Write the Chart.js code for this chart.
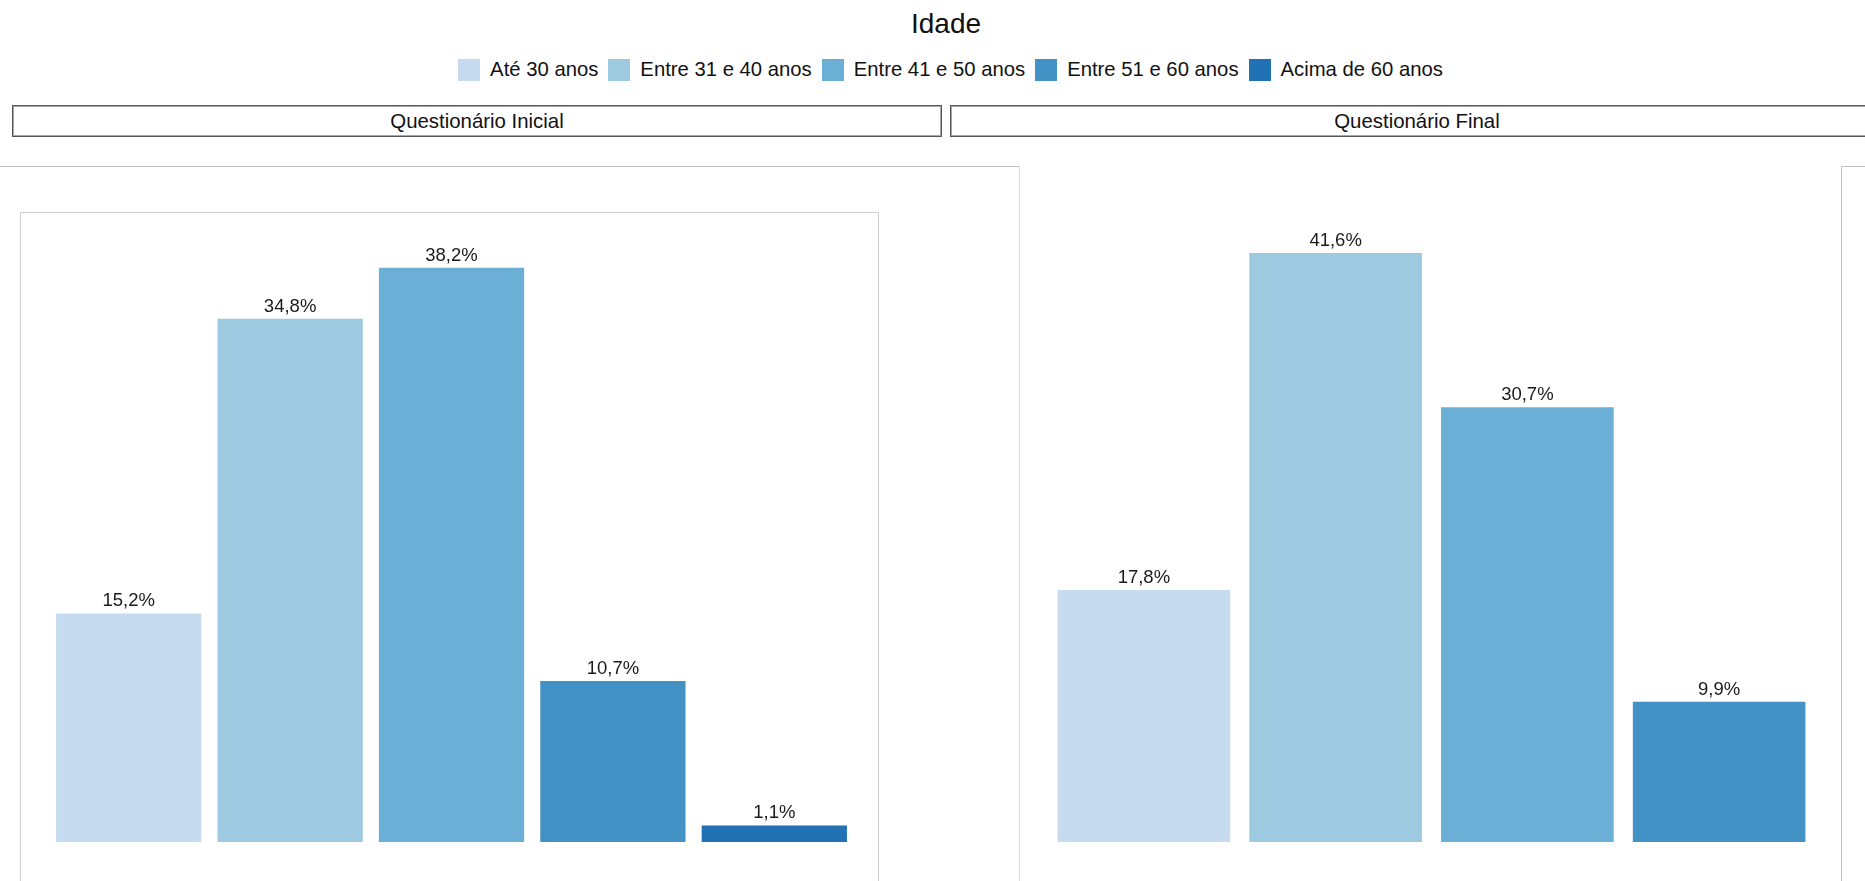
<!DOCTYPE html>
<html>
<head>
<meta charset="utf-8">
<script src="https://cdn.jsdelivr.net/npm/chart.js@4"></script>
<style>
  html, body { margin:0; padding:0; background:#fff; width:1865px; height:881px; overflow:hidden; font-family:"Liberation Sans", Arial, sans-serif; }
  .abs { position:absolute; box-sizing:border-box; }
  #title { left:0; width:1892px; top:8px; line-height:32px; font-size:28px; text-align:center; color:#111; }
  #legend { left:0; width:1911px; top:58px; height:23px; display:flex; justify-content:center; align-items:center; font-size:20.3px; color:#111; }
  .sw { width:22px; height:22px; margin-right:10px; }
  .lt { margin-right:10px; white-space:nowrap; }
  .strip { top:105px; height:32px; border:1px solid #555; box-shadow: inset 0 0 0 1px #a8a8a8; font-size:20.4px; line-height:30px; text-align:center; color:#111; }
  canvas { position:absolute; }
</style>
</head>
<body>
<div id="title" class="abs"></div>
<div id="legend" class="abs"></div>
<div id="strip0" class="abs strip" style="left:12px;width:930px;"></div>
<div id="strip1" class="abs strip" style="left:950px;width:934px;"></div>
<div class="abs" style="left:-2px;top:166px;width:1022px;height:800px;border-top:1px solid #c4c4c4;border-right:1px solid #dcdcdc;"></div>
<div class="abs" style="left:20px;top:212px;width:859px;height:800px;border:1px solid #cfcfcf;"></div>
<div class="abs" style="left:1841px;top:166px;width:100px;height:800px;border:1px solid #c4c4c4;"></div>
<canvas id="c0" width="807" height="630" style="left:48px;top:212px;width:807px;height:630px;"></canvas>
<canvas id="c1" width="767" height="630" style="left:1048px;top:212px;width:767px;height:630px;"></canvas>
<script>
const chartTitle = 'Idade';
const categories = ['Até 30 anos', 'Entre 31 e 40 anos', 'Entre 41 e 50 anos', 'Entre 51 e 60 anos', 'Acima de 60 anos'];
const seriesColors = ['#c6dbef', '#9ecae1', '#6baed6', '#4292c6', '#2171b5'];
const panelTitles = ['Questionário Inicial', 'Questionário Final'];
const inicialCategories = categories.slice(0, 5);
const inicialValues = [15.2, 34.8, 38.2, 10.7, 1.1];
const finalCategories = categories.slice(0, 4);
const finalValues = [17.8, 41.6, 30.7, 9.9];
const yMaxInicial = 41.9;
const yMaxFinal = 44.5;

document.getElementById('title').textContent = chartTitle;
const leg = document.getElementById('legend');
categories.forEach((c, i) => {
  const s = document.createElement('span'); s.className = 'sw'; s.style.background = seriesColors[i];
  const t = document.createElement('span'); t.className = 'lt'; t.textContent = c;
  leg.appendChild(s); leg.appendChild(t);
});
document.getElementById('strip0').textContent = panelTitles[0];
document.getElementById('strip1').textContent = panelTitles[1];

const fmt = v => v.toFixed(1).replace('.', ',') + '%';

const labelPlugin = {
  id: 'barLabels',
  afterDatasetsDraw(chart) {
    const ctx = chart.ctx;
    const ds = chart.data.datasets[0];
    const meta = chart.getDatasetMeta(0);
    ctx.save();
    ctx.font = '18.5px "Liberation Sans", Arial, sans-serif';
    ctx.fillStyle = '#1a1a1a';
    ctx.textAlign = 'center';
    ctx.textBaseline = 'alphabetic';
    meta.data.forEach((bar, i) => {
      ctx.fillText(fmt(ds.data[i]), bar.x, bar.y - 7);
    });
    ctx.restore();
  }
};

function makeChart(id, labels, values, yMax) {
  return new Chart(document.getElementById(id), {
    type: 'bar',
    data: {
      labels: labels,
      datasets: [{
        data: values,
        backgroundColor: seriesColors.slice(0, values.length),
        borderWidth: 0,
        barPercentage: 0.9,
        categoryPercentage: 1.0
      }]
    },
    options: {
      responsive: false,
      animation: false,
      devicePixelRatio: 1,
      layout: { padding: 0 },
      plugins: { legend: { display: false }, tooltip: { enabled: false }, title: { display: false } },
      scales: {
        x: { display: false, grid: { display: false } },
        y: { display: false, min: 0, max: yMax, grid: { display: false } }
      }
    },
    plugins: [labelPlugin]
  });
}

makeChart('c0', inicialCategories, inicialValues, yMaxInicial);
makeChart('c1', finalCategories, finalValues, yMaxFinal);
</script>
</body>
</html>
